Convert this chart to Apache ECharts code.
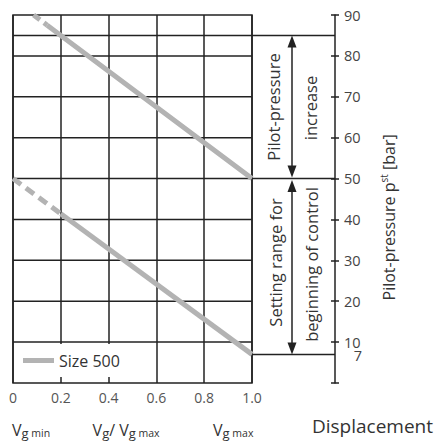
<!DOCTYPE html>
<html>
<head>
<meta charset="utf-8">
<script src="https://cdn.jsdelivr.net/npm/echarts@6/dist/echarts.min.js"></script>
<style>
  html, body { margin: 0; padding: 0; background: #fff; }
  #chart { width: 437px; height: 441px; }
</style>
</head>
<body>
<div id="chart"></div>
<script>
// Displacement ratio Vg / Vg max (x) against pilot pressure pst in bar (y)
const xTicks = [0, 0.2, 0.4, 0.6, 0.8, 1.0];
const pressureTicks = [0, 10, 20, 30, 40, 50, 60, 70, 80, 90];
const extraPressureLabel = 7;
const gridLevels = [10, 20, 30, 40, 50, 60, 70, 80, 85];

// Size 500: end of control (upper) and beginning of control (lower)
const upperDashed = [[0.086, 90], [0.143, 87.5]];
const upperSolid = [[0.143, 87.5], [0.2, 85], [1.0, 50]];
const lowerDashed = [[0, 50], [0.2, 41.4]];
const lowerSolid = [[0.2, 41.4], [1.0, 7]];

// Pressure ranges marked by the double arrows
const increaseRange = [85, 50];
const settingRange = [50, 7];

const FONT = '"Open Sans", "Noto Sans", sans-serif';
const INK = '#222';
const TEXT = '#333';
const CURVE = '#b3b3b3';
const AXIS_OFFSET = 83;

const chart = echarts.init(document.getElementById('chart'), null, { renderer: 'svg' });

const curve = (name, data, type) => ({
  name: name,
  type: 'line',
  data: data,
  showSymbol: false,
  symbol: 'none',
  color: CURVE,
  lineStyle: { color: CURVE, width: 5, type: type, cap: 'butt' },
  z: 3,
  silent: true
});

const levelLine = v => ({
  name: 'level ' + v,
  type: 'line',
  data: [[0, v], [1, v]],
  showSymbol: false,
  symbol: 'none',
  lineStyle: { color: INK, width: 1.5 },
  z: 1,
  silent: true
});

chart.setOption({
  animation: false,
  grid: {
    left: 13, right: 185, top: 15, bottom: 58,
    show: true, borderColor: INK, borderWidth: 1.5, backgroundColor: '#fff'
  },
  legend: {
    data: [{ name: 'Size 500', icon: 'rect' }],
    left: 14, top: 344,
    orient: 'horizontal',
    backgroundColor: '#fff',
    padding: [8, 28, 8, 9],
    itemWidth: 31, itemHeight: 5, itemGap: 4,
    textStyle: { fontFamily: FONT, fontSize: 16, lineHeight: 17, color: TEXT },
    selectedMode: false
  },
  xAxis: {
    type: 'value', min: xTicks[0], max: xTicks[xTicks.length - 1], interval: 0.2,
    axisLine: { show: false },
    axisTick: { show: false },
    axisLabel: {
      fontFamily: FONT, fontSize: 14, color: '#555', margin: 7,
      formatter: v => (v === 0 ? '0' : v.toFixed(1))
    },
    splitLine: { show: true, lineStyle: { color: INK, width: 1.5 } }
  },
  yAxis: [
    {
      type: 'value', min: 0, max: 90,
      axisLine: { show: false }, axisTick: { show: false }, axisLabel: { show: false },
      splitLine: { show: false }
    },
    {
      type: 'value', min: pressureTicks[0], max: pressureTicks[pressureTicks.length - 1],
      interval: 10, position: 'right', offset: AXIS_OFFSET,
      axisLine: { show: true, lineStyle: { color: INK, width: 1.5 } },
      axisTick: { show: true, length: 4, lineStyle: { color: INK, width: 1.5 } },
      axisLabel: {
        fontFamily: FONT, fontSize: 14.5, lineHeight: 13, color: '#444', margin: 9,
        formatter: v => (v === 0 ? '' : String(v))
      },
      splitLine: { show: false }
    },
    {
      type: 'value', min: pressureTicks[0], max: pressureTicks[pressureTicks.length - 1],
      interval: 10, position: 'right', offset: AXIS_OFFSET,
      axisLine: { show: false },
      axisTick: { show: true, inside: true, length: 4, lineStyle: { color: INK, width: 1.5 } },
      axisLabel: { show: false },
      splitLine: { show: false }
    }
  ],
  series: gridLevels.map(levelLine).concat([
    curve('Size 500', upperSolid, 'solid'),
    curve('upper start', upperDashed, [8, 5]),
    curve('Size 500', lowerSolid, 'solid'),
    curve('lower start', lowerDashed, [10, 6])
  ])
});

// Text width helper for laying out sub- and superscript runs
const measureCtx = document.createElement('canvas').getContext('2d');
function textWidth(text, size) {
  measureCtx.font = size + 'px ' + FONT;
  return measureCtx.measureText(text).width;
}

// A run of text pieces {t, size, dy} placed side by side in a group
function textRun(pieces, x, y, anchor, rotation) {
  const widths = pieces.map(p => textWidth(p.t, p.size));
  const total = widths.reduce((a, b) => a + b, 0);
  let cx = anchor === 'center' ? -total / 2 : (anchor === 'right' ? -total : 0);
  const children = pieces.map((p, i) => {
    const el = {
      type: 'text', silent: true,
      x: cx, y: p.dy || 0,
      style: { text: p.t, fontFamily: FONT, fontSize: p.size, fill: TEXT, align: 'left', verticalAlign: 'middle' }
    };
    cx += widths[i];
    return el;
  });
  return { type: 'group', silent: true, z: 6, x: x, y: y, rotation: rotation || 0, children: children };
}

// Annotations to the right of the plot: lead lines, range arrows and titles
function drawAnnotations() {
  const px = (x, y) => chart.convertToPixel({ xAxisIndex: 0, yAxisIndex: 0 }, [x, y]);
  const plotRight = px(1, 0)[0];
  const axisX = plotRight + AXIS_OFFSET;
  const arrowX = plotRight + 40;
  const els = [];

  [increaseRange[0], settingRange[0], settingRange[1]].forEach(v => {
    const y = px(1, v)[1];
    els.push({
      type: 'line', silent: true, z: 5,
      shape: { x1: plotRight, y1: y, x2: axisX, y2: y },
      style: { stroke: INK, lineWidth: 1.5 }
    });
  });

  // "7" label sits under "10" on the pressure axis, right-aligned with it
  els.push({
    type: 'text', silent: true, z: 6,
    x: axisX + 27, y: px(1, extraPressureLabel)[1] + 1.5,
    style: { text: String(extraPressureLabel), fontFamily: FONT, fontSize: 14.5, lineHeight: 13, fill: '#444', align: 'right', verticalAlign: 'middle' }
  });

  const head = (tipY, dir) => ({
    type: 'polygon', silent: true, z: 6,
    shape: { points: [[arrowX, tipY], [arrowX - 4.5, tipY + dir * 12], [arrowX + 4.5, tipY + dir * 12]] },
    style: { fill: INK }
  });

  [increaseRange, settingRange].forEach((r, i) => {
    const yTop = px(1, r[0])[1] + (i === 1 ? 1.5 : 0);
    const yBot = px(1, r[1])[1] - (i === 0 ? 1 : 0);
    els.push({
      type: 'line', silent: true, z: 5,
      shape: { x1: arrowX, y1: yTop + 4, x2: arrowX, y2: yBot - 4 },
      style: { stroke: INK, lineWidth: 1.5 }
    });
    els.push(head(yTop, 1));
    els.push(head(yBot, -1));
  });

  const vText = (text, x, y) => ({
    type: 'text', silent: true, z: 6,
    x: x, y: y, rotation: Math.PI / 2,
    style: {
      text: text, fontFamily: FONT, fontSize: 16.5, fill: TEXT,
      align: 'center', verticalAlign: 'middle'
    }
  });

  const incMid = px(1, (increaseRange[0] + increaseRange[1]) / 2)[1];
  const setMid = px(1, (settingRange[0] + settingRange[1]) / 2)[1];
  els.push(vText('Pilot-pressure', arrowX - 19, incMid));
  els.push(vText('increase', arrowX + 18, incMid + 1));
  els.push(vText('Setting range for', arrowX - 17, setMid - 4));
  els.push(vText('beginning of control', arrowX + 19, setMid - 2));

  // Pressure axis title with superscript
  els.push(textRun([
    { t: 'Pilot-pressure p', size: 16 },
    { t: 'st', size: 10, dy: -5 },
    { t: ' [bar]', size: 16 }
  ], axisX + 54, px(1, 40.5)[1], 'center', Math.PI / 2));

  // Displacement labels under the axis
  const baseY = px(0, 0)[1] + 47;
  const V = { t: 'V', size: 16 };
  const g = { t: 'g', size: 13, dy: 3 };
  els.push(textRun([V, g, { t: ' min', size: 10.5, dy: 3 }], px(0, 0)[0] - 1, baseY, 'left'));
  els.push(textRun([V, g, { t: '/ V', size: 16 }, g, { t: ' max', size: 10.5, dy: 3 }], px(0.4, 0)[0] - 16, baseY, 'left'));
  els.push(textRun([V, g, { t: ' max', size: 10.5, dy: 3 }], px(1, 0)[0] - 39, baseY, 'left'));
  els.push({
    type: 'text', silent: true, z: 6, x: 433, y: baseY - 4,
    style: { text: 'Displacement', fontFamily: FONT, fontSize: 19, fill: TEXT, align: 'right', verticalAlign: 'middle' }
  });

  chart.setOption({ graphic: { elements: els } });
}

drawAnnotations();
</script>
</body>
</html>
